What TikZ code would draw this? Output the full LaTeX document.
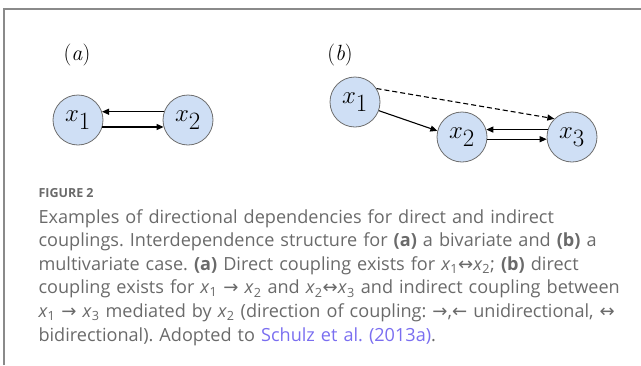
\documentclass[tikz,border=0pt]{standalone}
\usepackage{fontspec}
\setsansfont{Open Sans}
\newfontfamily\arrowfont{DejaVu Sans}
\usepackage{tikz}
\usetikzlibrary{positioning,arrows.meta,calc}
\definecolor{nodeblue}{HTML}{CFDFF5}
\definecolor{rimgray}{HTML}{6E6E6E}
\definecolor{capgray}{HTML}{6A6A6A}
\definecolor{framegray}{HTML}{8A8A8A}
\definecolor{linkblue}{HTML}{7A6EF0}
\newcommand{\ar}[1]{{\arrowfont #1}}
\newcommand{\xs}[1]{\textit{x}\textsubscript{#1}}
\frenchspacing

\begin{document}
\begin{tikzpicture}[
  x=1pt, y=-1pt,
  line width=1pt,
  var/.style={circle, draw=rimgray, line width=0.8pt, fill=nodeblue,
    minimum size=50pt, inner sep=0pt, font=\fontsize{33}{33}\selectfont},
  link/.style={line width=1.1pt, -{Triangle[length=7pt,width=6pt]}},
  panel/.style={font=\fontsize{22}{22}\selectfont}
]
\useasboundingbox (0,0) rectangle (641,365);

% 枠
\draw[framegray, line width=1.2pt] (4,365) -- (4,9) -- (641,9);

% (a)：二変量
\node[panel] (pa) at (77,55) {(\textit{a})};
\node[var] (a1) at (78,120) {$x_1$};
\node[var] (a2) at (188,120) {$x_2$};
\draw[link] (a2.161) -- (a1.19);
\draw[link] (a1.-16) -- (a2.196);

% (b)：多変量
\node[panel] (pb) at (340,55) {(\textit{b})};
\node[var] (b1) at (355,102) {$x_1$};
\node[var] (b2) at (462,137) {$x_2$};
\node[var] (b3) at (572,137) {$x_3$};
\draw[link, dash pattern=on 5pt off 3pt] (b1.32) -- (b3.134);
\draw[link] (b1.-20) -- (b2.166);
\draw[link] (b3.163) -- (b2.17);
\draw[link] (b2.-5) -- (b3.185);

% キャプション
\node[anchor=base west, inner sep=0pt, text=capgray,
  font=\sffamily\bfseries\fontsize{12.5}{12.5}\selectfont] (fig) at (38,197) {FIGURE 2};
\node[anchor=base west, inner sep=0pt, text=capgray, text width=600pt, align=left,
  font=\sffamily\fontsize{18.1}{23.6}\selectfont] (cap) at (38,223)
  {Examples of directional dependencies for direct and indirect\\
   couplings. Interdependence structure for \textbf{(a)} a bivariate and \textbf{(b)} a\\
   multivariate case. \textbf{(a)} Direct coupling exists for \xs{1}\ar{↔}\xs{2}; \textbf{(b)} direct\\
   coupling exists for \xs{1} \ar{→} \xs{2} and \xs{2}\ar{↔}\xs{3} and indirect coupling between\\
   \xs{1} \ar{→} \xs{3} mediated by \xs{2} (direction of coupling: \ar{→},\ar{←} unidirectional, \ar{↔}\\
   bidirectional). Adopted to \textcolor{linkblue}{Schulz et al. (2013a)}.};

\end{tikzpicture}
\end{document}
